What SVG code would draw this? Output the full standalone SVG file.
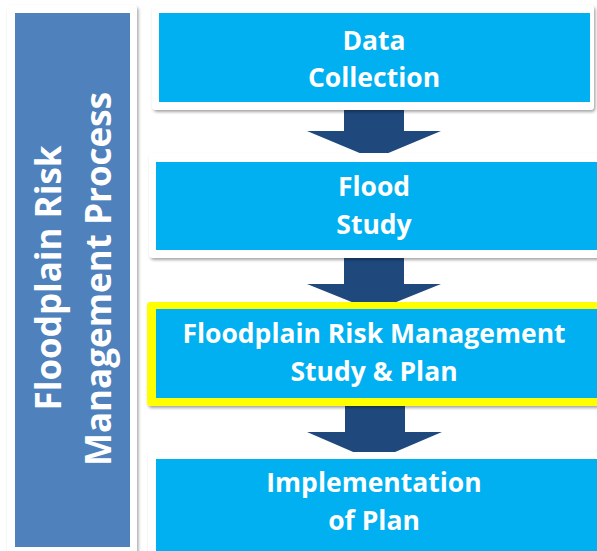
<svg xmlns="http://www.w3.org/2000/svg" width="597" height="551" viewBox="0 0 597 551">
<defs>
<filter id="sh" x="-5%" y="-5%" width="115%" height="115%">
<feDropShadow dx="1.5" dy="2" stdDeviation="1.8" flood-color="#000" flood-opacity="0.35"/>
</filter>
<style>
.frame{fill:#ffffff;filter:url(#sh)}
.box{fill:#00B0F0}
.t{font-family:"Open Sans","Liberation Sans",sans-serif;font-weight:bold;font-size:26.5px;fill:#ffffff;text-anchor:middle}
.lt{font-family:"Open Sans","Liberation Sans",sans-serif;font-weight:bold;font-size:35px;fill:#ffffff;text-anchor:middle}
.arr{fill:#1F497D}
</style>
</defs>
<rect width="597" height="551" fill="#ffffff"/>
<g id="side">
<rect class="frame" x="7" y="5" width="130" height="560" rx="4"/>
<rect x="15" y="13" width="115" height="534" fill="#4F81BD"/>
<text class="lt" transform="translate(61,278) rotate(-90)">Floodplain Risk</text>
<text class="lt" transform="translate(111,279) rotate(-90)">Management Process</text>
</g>
<g id="connectors">
<polygon class="arr" points="344,108 404,108 404,131 441,131 374,159 307,131 344,131"/>
<polygon class="arr" points="344,257 404,257 404,284 441,284 374,311 307,284 344,284"/>
<polygon class="arr" points="345,406 405,406 405,432 442,432 374,461 307,432 345,432"/>
</g>
<g id="n1">
<rect class="frame" x="152" y="5" width="442" height="105" rx="4"/>
<rect class="box" x="159" y="13" width="431" height="89"/>
<text class="t" x="374" y="50">Data</text>
<text class="t" x="374" y="87">Collection</text>
</g>
<g id="n2">
<rect class="frame" x="149" y="153" width="460" height="105" rx="4"/>
<rect class="box" x="156" y="162" width="450" height="88"/>
<text class="t" x="374" y="196">Flood</text>
<text class="t" x="374" y="234">Study</text>
</g>
<g id="n3">
<rect x="147" y="302" width="470" height="104" rx="3" fill="#FFFF00" filter="url(#sh)"/>
<rect class="box" x="156" y="309" width="460" height="89"/>
<text class="t" x="374" y="343">Floodplain Risk Management</text>
<text class="t" x="374" y="381">Study &amp; Plan</text>
</g>
<g id="n4">
<rect class="frame" x="148" y="452" width="460" height="110" rx="4"/>
<rect class="box" x="156" y="459" width="450" height="100"/>
<text class="t" x="374" y="492">Implementation</text>
<text class="t" x="374" y="530">of Plan</text>
</g>
</svg>
